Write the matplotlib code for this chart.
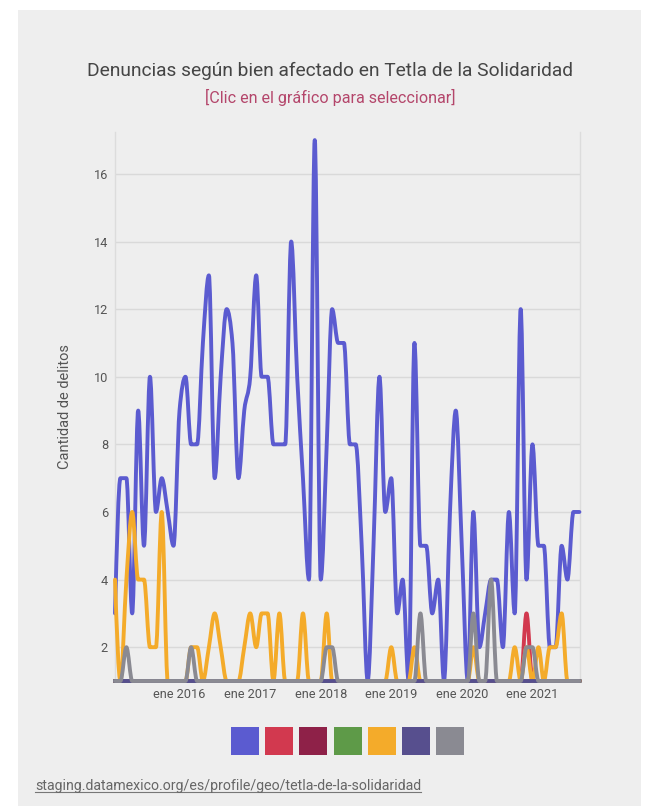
import numpy as np
import pandas as pd
import matplotlib
matplotlib.use("Agg")
import matplotlib.pyplot as plt
import matplotlib.dates as mdates
from matplotlib.path import Path
from matplotlib.patches import PathPatch, Rectangle
from matplotlib.lines import Line2D

plt.rcParams['font.family'] = ['Roboto', 'DejaVu Sans']

# ---------------- data ----------------
start_month = "2015-02-01"
n_months = 80
months = pd.date_range(start_month, periods=n_months, freq="MS")

tick_years = [2016, 2017, 2018, 2019, 2020, 2021]
tick_labels = ["ene 2016", "ene 2017", "ene 2018", "ene 2019", "ene 2020", "ene 2021"]
y_ticks = [2, 4, 6, 8, 10, 12, 14, 16]

series_names = ["El patrimonio", "La familia", "La libertad y la seguridad sexual",
                "La sociedad", "La vida y la integridad corporal",
                "Libertad personal", "Otros bienes jurídicos afectados"]
series_colors = ["#5b5bd0", "#d2394f", "#8e2148", "#5e9a48", "#f4ab2a", "#574f8e", "#8a8a92"]

patrimonio = [3, 7, 7, 3, 9, 5, 10, 6, 7, 6, 5, 9, 10, 8, 8, 11, 13, 7, 10, 12,
              11, 7, 9, 10, 13, 10, 10, 8, 8, 8, 14, 10, 7, 4, 17, 4, 8, 12, 11, 11,
              8, 8, 5, 1, 5, 10, 6, 7, 3, 4, 1, 11, 5, 5, 3, 4, 1, 6, 9, 5,
              1, 6, 2, 3, 4, 4, 2, 6, 3, 12, 4, 8, 5, 5, 2, 2, 5, 4, 6, 6]
familia = [1] * 70 + [3] + [1] * 9
sexual = [1] * 80
sociedad = [1] * 80
vida = [4, 1, 4, 6, 4, 4, 2, 2, 6, 1, 1, 1, 1, 2, 2, 1, 2, 3, 2, 1,
        1, 1, 2, 3, 2, 3, 3, 1, 3, 1, 1, 1, 3, 1, 1, 1, 3, 1, 1, 1,
        1, 1, 1, 1, 1, 1, 1, 2, 1, 1, 1, 2, 1, 1, 1, 1, 1, 1, 1, 1,
        1, 2, 1, 1, 1, 1, 1, 1, 2, 1, 2, 1, 2, 1, 2, 2, 3, 1, 1, 1]
libertad = [1] * 80
otros = [1, 1, 2, 1, 1, 1, 1, 1, 1, 1, 1, 1, 1, 2, 1, 1, 1, 1, 1, 1,
         1, 1, 1, 1, 1, 1, 1, 1, 1, 1, 1, 1, 1, 1, 1, 1, 2, 2, 1, 1,
         1, 1, 1, 1, 1, 1, 1, 1, 1, 1, 1, 1, 3, 1, 1, 1, 1, 1, 1, 1,
         1, 3, 1, 1, 4, 1, 1, 1, 1, 1, 2, 2, 1, 1, 1, 1, 1, 1, 1, 1]
series_values = [patrimonio, familia, sexual, sociedad, vida, libertad, otros]

title = "Denuncias según bien afectado en Tetla de la Solidaridad"
subtitle = "[Clic en el gráfico para seleccionar]"
y_label = "Cantidad de delitos"
source = "staging.datamexico.org/es/profile/geo/tetla-de-la-solidaridad"


# ---------------- helpers ----------------
def monotone_path(x, y):
    """Cubic Bezier path equivalent to d3.curveMonotoneX through the points."""
    x = np.asarray(x, float)
    y = np.asarray(y, float)
    n = len(x)
    h = np.diff(x)
    s = np.diff(y) / h
    t = np.zeros(n)
    for k in range(1, n - 1):
        h0, h1 = h[k - 1], h[k]
        s0, s1 = s[k - 1], s[k]
        p = (s0 * h1 + s1 * h0) / (h0 + h1)
        t[k] = (np.sign(s0) + np.sign(s1)) * min(abs(s0), abs(s1), 0.5 * abs(p))
    t[0] = (3 * s[0] - t[1]) / 2
    t[-1] = (3 * s[-1] - t[-2]) / 2
    verts = [(x[0], y[0])]
    codes = [Path.MOVETO]
    for k in range(n - 1):
        dx = h[k] / 3
        verts += [(x[k] + dx, y[k] + dx * t[k]),
                  (x[k + 1] - dx, y[k + 1] - dx * t[k + 1]),
                  (x[k + 1], y[k + 1])]
        codes += [Path.CURVE4] * 3
    return Path(verts, codes)


# ---------------- figure ----------------
W, H = 647, 806
fig = plt.figure(figsize=(W / 100, H / 100), dpi=100, facecolor="white")
fig.add_artist(Rectangle((18 / W, 0), (641 - 18) / W, (806 - 10) / H,
                         transform=fig.transFigure, facecolor="#eeeeee",
                         edgecolor="none", zorder=0))

ax = fig.add_axes([115 / W, (H - 681) / H, 465 / W, (681 - 132) / H])
ax.set_facecolor("none")

xnum = mdates.date2num(months)
for vals, col in zip(series_values, series_colors):
    patch = PathPatch(monotone_path(xnum, vals), fill=False, edgecolor=col,
                      lw=2.8, capstyle="round", joinstyle="round", clip_on=False,
                      zorder=3)
    ax.add_patch(patch)

ax.set_xlim(xnum[0], xnum[-1] + 3)
ax.set_ylim(1, 17.24)

ax.set_xticks(mdates.date2num([pd.Timestamp(f"{yr}-01-01") for yr in tick_years]))
ax.set_xticklabels(tick_labels)
ax.set_yticks(y_ticks)
ax.set_yticklabels([str(v) for v in y_ticks])
ax.tick_params(axis="both", length=0, labelsize=9.2, colors="#555555")
ax.tick_params(axis="x", pad=5)
ax.tick_params(axis="y", pad=5)

ax.yaxis.grid(True, color="#d9d9d9", lw=1)
ax.set_axisbelow(True)
ax.spines["top"].set_visible(False)
for side in ["left", "right"]:
    ax.spines[side].set_color("#dcdcdc")
    ax.spines[side].set_linewidth(1)
ax.spines["bottom"].set_color("#8a8a92")
ax.spines["bottom"].set_linewidth(2.8)

ax.set_ylabel(y_label, fontsize=10.5, color="#555555")
ax.yaxis.set_label_coords((72 - 115) / 465, 0.5)

fig.text(330 / W, 1 - 71 / H, title, ha="center", va="center",
         fontsize=13.8, color="#454545")
fig.text(330 / W, 1 - 97 / H, subtitle, ha="center", va="center",
         fontsize=11.6, color="#b4466b")

# legend squares
sq = 28
x0 = 231
gap = 34.2
for k, col in enumerate(series_colors):
    fig.add_artist(Rectangle(((x0 + k * gap) / W, (H - 755) / H), sq / W, sq / H,
                             transform=fig.transFigure, facecolor=col,
                             edgecolor="none"))

src = fig.text(35 / W, 1 - 786 / H, source, ha="left", va="center",
               fontsize=10.2, color="#666666")
fig.canvas.draw()
bb = src.get_window_extent(renderer=fig.canvas.get_renderer())
fig.add_artist(Line2D([bb.x0 / W, bb.x1 / W], [(bb.y0 + 1) / H, (bb.y0 + 1) / H],
                      transform=fig.transFigure, color="#777777", lw=0.8))

fig.savefig("out.png", dpi=100, facecolor="white")
